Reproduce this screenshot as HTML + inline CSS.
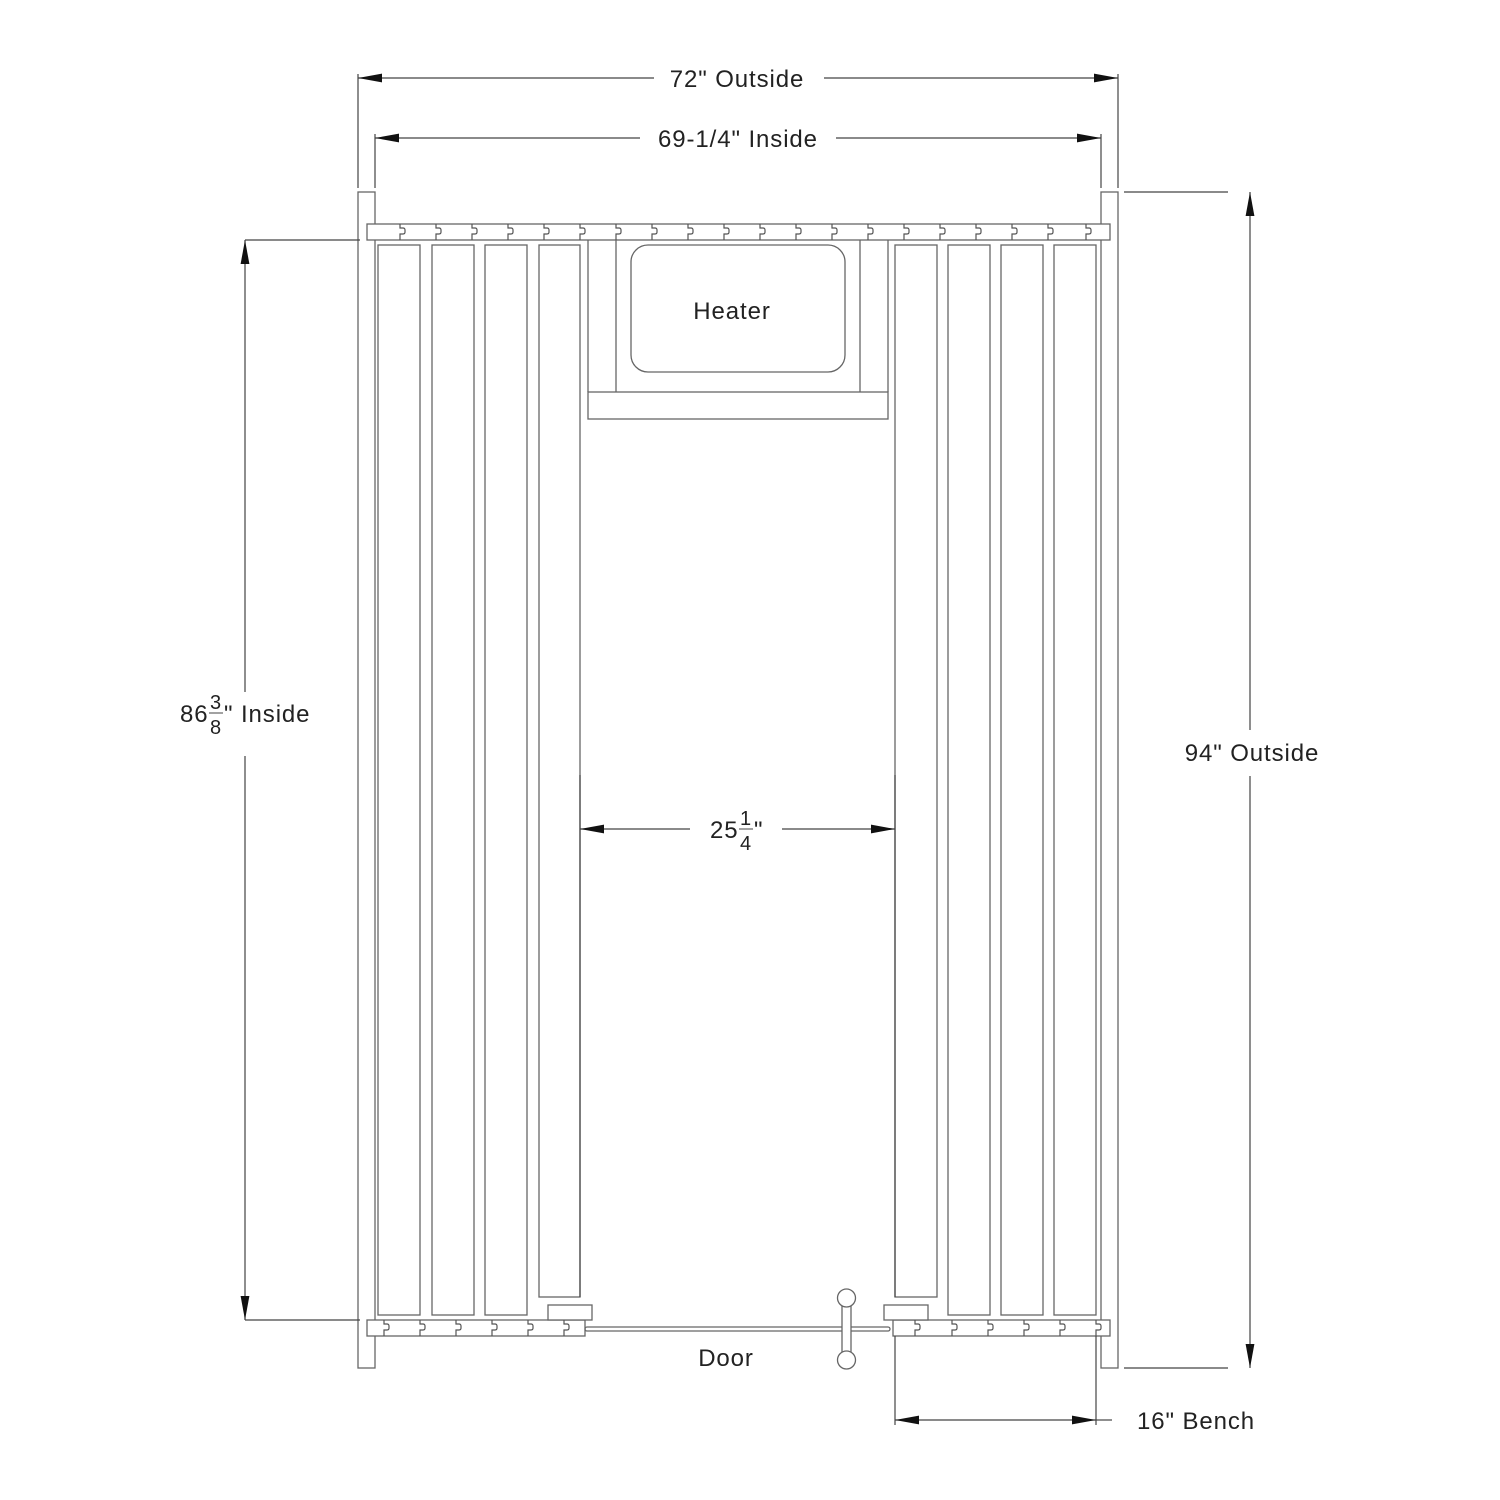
<!DOCTYPE html>
<html><head><meta charset="utf-8"><style>
html,body{margin:0;padding:0;background:#fff;}
svg{display:block;}
text{font-family:"Liberation Sans",sans-serif;fill:#222;letter-spacing:0.9px;}
</style></head><body>
<svg width="1500" height="1500" viewBox="0 0 1500 1500" xmlns="http://www.w3.org/2000/svg">
<defs>
<path id="tg" d="M0 0 V4 H3 Q5 4 5 6 V8 Q5 10 3 10 H0 V16" fill="none" stroke="#555" stroke-width="1.2"/>
<marker id="ah" viewBox="0 0 10 10" refX="10" refY="5" markerWidth="24" markerHeight="11" markerUnits="userSpaceOnUse" orient="auto-start-reverse" preserveAspectRatio="none"><path d="M0 1 L10 5 L0 9 Z" fill="#111"/></marker>
</defs>
<g fill="none" stroke="#666" stroke-width="1.3">
<rect x="358" y="192" width="17" height="1176"/>
<rect x="1101" y="192" width="17" height="1176"/>
<rect x="367" y="224" width="743" height="16" fill="#fff"/>
<rect x="367" y="1320" width="218" height="16" fill="#fff"/>
<rect x="893" y="1320" width="217" height="16" fill="#fff"/>
<rect x="378" y="245" width="42" height="1070"/>
<rect x="432" y="245" width="42" height="1070"/>
<rect x="485" y="245" width="42" height="1070"/>
<rect x="539" y="245" width="41" height="1052"/>
<rect x="895" y="245" width="42" height="1052"/>
<rect x="948" y="245" width="42" height="1070"/>
<rect x="1001" y="245" width="42" height="1070"/>
<rect x="1054" y="245" width="42" height="1070"/>
<line x1="588" y1="240" x2="588" y2="392"/>
<line x1="616" y1="240" x2="616" y2="392"/>
<line x1="860" y1="240" x2="860" y2="392"/>
<line x1="888" y1="240" x2="888" y2="392"/>
<rect x="588" y="392" width="300" height="27"/>
<rect x="631" y="245" width="214" height="127" rx="17"/>
<rect x="548" y="1305" width="44" height="15" fill="#fff"/>
<rect x="884" y="1305" width="44" height="15" fill="#fff"/>
<rect x="585" y="1327" width="305" height="4" rx="2"/>
<rect x="842" y="1305" width="9" height="50" fill="#fff"/>
<circle cx="846.5" cy="1298" r="9" fill="#fff"/>
<circle cx="846.5" cy="1360" r="9" fill="#fff"/>
</g>
<g>
<use href="#tg" x="400" y="224"/><use href="#tg" x="436" y="224"/><use href="#tg" x="472" y="224"/><use href="#tg" x="508" y="224"/><use href="#tg" x="544" y="224"/><use href="#tg" x="580" y="224"/><use href="#tg" x="616" y="224"/><use href="#tg" x="652" y="224"/><use href="#tg" x="688" y="224"/><use href="#tg" x="724" y="224"/><use href="#tg" x="760" y="224"/><use href="#tg" x="796" y="224"/><use href="#tg" x="832" y="224"/><use href="#tg" x="868" y="224"/><use href="#tg" x="904" y="224"/><use href="#tg" x="940" y="224"/><use href="#tg" x="976" y="224"/><use href="#tg" x="1012" y="224"/><use href="#tg" x="1048" y="224"/><use href="#tg" x="1086" y="224"/>
<use href="#tg" x="384" y="1320"/><use href="#tg" x="420" y="1320"/><use href="#tg" x="456" y="1320"/><use href="#tg" x="492" y="1320"/><use href="#tg" x="528" y="1320"/><use href="#tg" x="564" y="1320"/>
<use href="#tg" x="915" y="1320"/><use href="#tg" x="952" y="1320"/><use href="#tg" x="988" y="1320"/><use href="#tg" x="1024" y="1320"/><use href="#tg" x="1060" y="1320"/><use href="#tg" x="1096" y="1320"/>
</g>
<g stroke="#444" stroke-width="1.2" fill="none">
<line x1="358" y1="74" x2="358" y2="188"/>
<line x1="1118" y1="74" x2="1118" y2="188"/>
<line x1="375" y1="134" x2="375" y2="188"/>
<line x1="1101" y1="134" x2="1101" y2="188"/>
<line x1="358" y1="78" x2="654" y2="78" marker-start="url(#ah)"/>
<line x1="824" y1="78" x2="1118" y2="78" marker-end="url(#ah)"/>
<line x1="375" y1="138" x2="640" y2="138" marker-start="url(#ah)"/>
<line x1="836" y1="138" x2="1101" y2="138" marker-end="url(#ah)"/>
<line x1="245" y1="240" x2="360" y2="240"/>
<line x1="245" y1="1320" x2="360" y2="1320"/>
<line x1="245" y1="240" x2="245" y2="692" marker-start="url(#ah)"/>
<line x1="245" y1="756" x2="245" y2="1320" marker-end="url(#ah)"/>
<line x1="1124" y1="192" x2="1228" y2="192"/>
<line x1="1124" y1="1368" x2="1228" y2="1368"/>
<line x1="1250" y1="192" x2="1250" y2="730" marker-start="url(#ah)"/>
<line x1="1250" y1="776" x2="1250" y2="1368" marker-end="url(#ah)"/>
<line x1="580" y1="775" x2="580" y2="1297"/>
<line x1="895" y1="775" x2="895" y2="1297"/>
<line x1="580" y1="829" x2="690" y2="829" marker-start="url(#ah)"/>
<line x1="782" y1="829" x2="895" y2="829" marker-end="url(#ah)"/>
<line x1="895" y1="1336" x2="895" y2="1425"/>
<line x1="1096" y1="1336" x2="1096" y2="1425"/>
<line x1="895" y1="1420" x2="1096" y2="1420" marker-start="url(#ah)" marker-end="url(#ah)"/>
<line x1="1096" y1="1420" x2="1112" y2="1420"/>
</g>
<text x="737" y="87" font-size="24" text-anchor="middle">72" Outside</text>
<text x="738" y="147" font-size="24" text-anchor="middle">69-1/4" Inside</text>
<text x="732" y="319" font-size="24" text-anchor="middle">Heater</text>
<text x="726" y="1366" font-size="24" text-anchor="middle">Door</text>
<text x="1252" y="761" font-size="24" text-anchor="middle">94" Outside</text>
<text x="1196" y="1429" font-size="24" text-anchor="middle">16" Bench</text>
<text x="180" y="722" font-size="24">86</text>
<text x="216" y="709" font-size="20" text-anchor="middle">3</text>
<line x1="209" y1="713" x2="223" y2="713" stroke="#444" stroke-width="1"/>
<text x="216" y="734" font-size="20" text-anchor="middle">8</text>
<text x="224" y="722" font-size="24">" Inside</text>
<text x="710" y="838" font-size="24">25</text>
<text x="746" y="825" font-size="20" text-anchor="middle">1</text>
<line x1="739" y1="829" x2="753" y2="829" stroke="#444" stroke-width="1"/>
<text x="746" y="850" font-size="20" text-anchor="middle">4</text>
<text x="754" y="838" font-size="24">"</text>
</svg>
</body></html>
